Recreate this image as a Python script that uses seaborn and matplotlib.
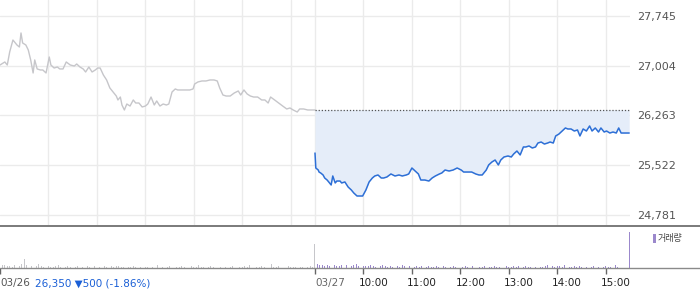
import matplotlib
matplotlib.use("Agg")
import matplotlib.pyplot as plt
import matplotlib.transforms as mtransforms
from matplotlib.lines import Line2D
from matplotlib.patches import Rectangle
import seaborn as sns
import pandas as pd

# ---------------- data ----------------
# minutes after 09:00 on each day
d1_minutes = [0, 6, 9, 12, 16, 19, 21, 24, 26, 28,
              32, 35, 38, 41, 43, 46, 50, 53, 57, 61,
              63, 67, 71, 74, 78, 82, 87, 92, 95, 99,
              103, 106, 110, 114, 118, 121, 124, 128, 132, 136,
              140, 144, 146, 149, 151, 154, 157, 161, 165, 168,
              172, 176, 180, 183, 187, 191, 194, 198, 202, 206,
              209, 213, 217, 220, 225, 230, 235, 239, 241, 245,
              250, 255, 260, 265, 269, 272, 276, 280, 285, 290,
              295, 298, 302, 306, 310, 314, 319, 324, 328, 332,
              335, 340, 345, 350, 355, 359, 363, 368, 371, 376,
              381, 386, 390]
d1_prices = [27015, 27060, 27015, 27209, 27387, 27343, 27313, 27283, 27492, 27343,
             27313, 27239, 27090, 26896, 27090, 26956, 26941, 26941, 26896, 27134,
             27015, 26970, 26985, 26956, 26956, 27060, 27015, 27000, 27030, 26985,
             26956, 26911, 26985, 26911, 26941, 26970, 26970, 26866, 26792, 26673,
             26613, 26553, 26494, 26538, 26419, 26345, 26434, 26404, 26494, 26449,
             26449, 26390, 26404, 26434, 26538, 26419, 26479, 26404, 26434, 26419,
             26434, 26613, 26658, 26643, 26643, 26643, 26643, 26658, 26732, 26762,
             26777, 26777, 26792, 26792, 26777, 26673, 26568, 26553, 26553, 26598,
             26628, 26568, 26643, 26583, 26553, 26538, 26538, 26494, 26494, 26449,
             26538, 26494, 26449, 26404, 26360, 26375, 26345, 26315, 26360, 26360,
             26345, 26345, 26345]

d2_minutes = [0, 1, 4, 5, 7, 10, 12, 15, 17, 20,
              22, 25, 27, 31, 33, 37, 41, 45, 48, 52,
              56, 59, 63, 67, 71, 74, 78, 82, 85, 89,
              94, 99, 104, 108, 113, 116, 120, 124, 128, 131,
              136, 141, 145, 149, 154, 157, 161, 166, 171, 176,
              181, 184, 189, 194, 199, 203, 207, 212, 215, 219,
              223, 227, 230, 234, 239, 243, 246, 250, 254, 258,
              261, 265, 269, 273, 276, 280, 284, 288, 291, 295,
              298, 302, 306, 310, 313, 317, 321, 325, 328, 332,
              336, 340, 343, 347, 351, 354, 358, 361, 365, 369,
              373, 376, 379, 384, 389]
d2_prices = [25704, 25481, 25451, 25421, 25407, 25377, 25332, 25302, 25273, 25228,
             25362, 25258, 25287, 25287, 25258, 25273, 25198, 25153, 25109, 25064,
             25064, 25064, 25153, 25273, 25332, 25362, 25377, 25332, 25332, 25347,
             25392, 25362, 25377, 25362, 25377, 25392, 25481, 25436, 25392, 25302,
             25302, 25287, 25332, 25362, 25392, 25407, 25451, 25436, 25451, 25481,
             25451, 25421, 25421, 25421, 25392, 25377, 25377, 25451, 25526, 25570,
             25600, 25526, 25600, 25645, 25660, 25645, 25690, 25734, 25675, 25794,
             25794, 25809, 25779, 25794, 25853, 25868, 25838, 25853, 25868, 25853,
             25958, 25987, 26032, 26077, 26062, 26062, 26032, 26047, 25958, 26062,
             26032, 26107, 26032, 26077, 26017, 26077, 26017, 26032, 26002, 26017,
             26002, 26077, 26002, 26002, 26002]

# volume, one value every 3 minutes (relative units)
d1_vol = [12, 3, 3, 2, 2, 1, 3, 3, 2, 4, 9, 3, 2, 2, 3, 2, 4,
          2, 1, 0, 2, 1, 1, 2, 3, 1, 0, 1, 2, 1, 0, 1, 2, 1, 1, 0, 2, 1, 1, 2, 1, 1, 0, 2, 1, 1, 2, 1, 2, 2, 1,
          1, 0, 1, 1, 2, 1, 0, 1, 2, 1, 1, 0, 1, 2, 3, 1, 1, 0, 1, 2, 1, 0, 1, 1, 2, 1, 0, 1, 2, 1, 1, 3, 1,
          1, 0, 1, 2, 1, 0, 1, 1, 3, 1, 0, 1, 2, 1, 0, 1, 1, 2, 1, 3, 1, 0, 1, 1, 2, 1, 0, 1, 4, 1, 1, 2, 1,
          0, 1, 2, 1, 1, 1, 2, 1, 1, 0, 1, 2, 1]
d1_close_vol = 24
d2_vol = [7, 4, 3, 3, 2, 3, 2, 3, 3, 2, 2, 3, 2, 3, 3, 2, 3, 4, 2, 3, 2,
          2, 2, 3, 2, 1, 2, 2, 3, 2, 1, 2, 1, 2, 2, 1, 3, 2, 1, 2, 1, 1, 2, 1, 2, 1, 1, 2, 1, 1, 2,
          1, 1, 2, 1, 0, 1, 2, 1, 1, 0, 1, 2, 1, 1, 2, 1, 0, 1, 1, 2, 3, 1, 1, 2, 1, 1, 0, 1, 2, 1, 1, 2, 1,
          2, 1, 1, 2, 1, 1, 2, 1, 2, 1, 1, 2, 3, 1, 2, 1, 2, 2, 1, 3, 2, 1, 1, 2, 1, 2, 1, 2, 1, 0, 1, 2, 1,
          1, 0, 1, 2, 1, 1, 2, 3, 1, 0, 0, 0, 0]
d2_close_vol = 36

y_ticks = [24781, 25522, 26263, 27004, 27745]
ref_level = 26350
day_labels = ["03/26", "03/27"]
hour_labels = ["10:00", "11:00", "12:00", "13:00", "14:00", "15:00"]
summary_text = "26,350 \u25bc500 (-1.86%)"
legend_label = "거래량"

# ---------------- style ----------------
sns.set_theme(style="white")
plt.rcParams['font.family'] = ['DejaVu Sans']

DAY = 390
GRAY = '#c6c6ca'
BLUE = '#2d6fd6'
FILL = '#e5edf9'
PURPLE = '#9b88cc'
GRID = '#ebebeb'

df1 = pd.DataFrame({'t': d1_minutes, 'price': d1_prices})
df2 = pd.DataFrame({'t': [DAY + m for m in d2_minutes], 'price': d2_prices})

fig = plt.figure(figsize=(7.0, 2.89), dpi=100)
W, H = 700.0, 289.0
ax = fig.add_axes([0, 64 / H, 630 / W, 225 / H])
axv = fig.add_axes([0, 21 / H, 630 / W, 42 / H])

# ---------------- price panel ----------------
ax.fill_between(df2['t'], df2['price'], ref_level, color=FILL, lw=0, zorder=1)
sns.lineplot(data=df1, x='t', y='price', ax=ax, color=GRAY, lw=1.0,
             estimator=None, sort=False, zorder=3)
sns.lineplot(data=df2, x='t', y='price', ax=ax, color=BLUE, lw=1.1,
             estimator=None, sort=False, zorder=4)
ax.hlines(ref_level, DAY, 2 * DAY, colors='#555555', linestyles=(0, (1, 1.5)),
          lw=0.9, zorder=5)

ax.set_xlim(0, 2 * DAY)
ax.set_ylim(24632, 27983)
grid_x = [60 * k for k in range(1, 7)] + [DAY] + [DAY + 60 * k for k in range(1, 7)]
ax.set_xticks(grid_x)
ax.set_yticks(y_ticks)
ax.set_yticklabels([f"{v:,}" for v in y_ticks])
ax.grid(True, color=GRID, lw=1)
ax.set_axisbelow(True)
ax.yaxis.tick_right()
ax.tick_params(axis='y', length=0, pad=5, labelsize=8, labelcolor='#555555')
ax.tick_params(axis='x', length=0, labelbottom=False)
ax.set_xlabel('')
ax.set_ylabel('')
for s in ax.spines.values():
    s.set_visible(False)

# ---------------- volume panel ----------------
t1v = [3 * i for i in range(len(d1_vol))]
t2v = [DAY + 3 * i for i in range(len(d2_vol))]
axv.bar(t1v, d1_vol, width=1.0, color=GRAY, lw=0)
axv.bar([DAY - 1], [d1_close_vol], width=1.0, color=GRAY, lw=0)
axv.bar(t2v, d2_vol, width=1.0, color=PURPLE, lw=0)
axv.bar([2 * DAY - 1], [d2_close_vol], width=1.0, color=PURPLE, lw=0)
axv.set_xlim(0, 2 * DAY)
axv.set_ylim(0, 42)
for s in axv.spines.values():
    s.set_visible(False)
axv.set_yticks([])
tick_x = [0, DAY] + [DAY + 60 * k for k in range(1, 7)]
axv.set_xticks(tick_x)
axv.tick_params(axis='x', bottom=True, direction='out', length=4, width=1,
                color='#666666', labelbottom=False)
axv.grid(False)

# full-width separator lines
fig.add_artist(Line2D([0, 1], [1 - 225.5 / H, 1 - 225.5 / H], transform=fig.transFigure,
                      color='#7a7a7a', lw=1.4))
fig.add_artist(Line2D([0, 1], [1 - 268 / H, 1 - 268 / H], transform=fig.transFigure,
                      color='#8a8a8a', lw=1.0))

# ---------------- bottom labels ----------------
ty = 1 - 283 / H
trans = mtransforms.blended_transform_factory(axv.transData, fig.transFigure)
fig.text(0, ty, day_labels[0], ha='left', va='center', fontsize=7.5, color='#555555')
fig.text(35 / W, ty, summary_text, ha='left', va='center', fontsize=7.5, color='#1a5fd6')
axv.text(DAY, ty, day_labels[1], transform=trans, ha='left', va='center',
         fontsize=7.5, color='#666666')
off = mtransforms.offset_copy(trans, fig=fig, x=-5, y=0, units='dots')
for k, lab in enumerate(hour_labels, start=1):
    axv.text(DAY + 60 * k, ty, lab, transform=off, ha='left', va='center',
             fontsize=7.5, color='#222222')

# legend
fig.add_artist(Rectangle((653 / W, 1 - 243 / H), 3 / W, 9 / H, transform=fig.transFigure,
                         color=PURPLE, lw=0))
fig.text(658 / W, 1 - 238 / H, legend_label, ha='left', va='center', fontsize=6.5,
         color='#444444', family=['Noto Sans CJK KR', 'DejaVu Sans'])

fig.savefig('out.png', dpi=100)
